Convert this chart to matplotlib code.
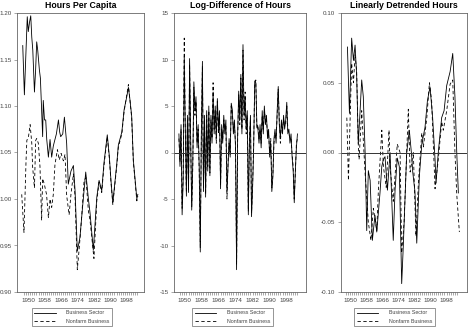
import numpy as np
import matplotlib
matplotlib.use('Agg')
import matplotlib.pyplot as plt
from matplotlib.lines import Line2D

plt.rcParams['font.family'] = ['Liberation Sans', 'DejaVu Sans']

# ---- Hours per capita (index) ----
bus_pc_years = [1947.3, 1948.1, 1949.5, 1950.0, 1950.6, 1951.2, 1951.7, 1952.2, 1953.0, 1953.6,
                1954.1, 1954.6, 1955.4, 1955.9, 1956.5, 1957.0, 1957.3, 1957.9, 1958.5, 1959.0,
                1959.8, 1960.6, 1961.4, 1962.2, 1963.0, 1963.7, 1964.7, 1965.3, 1965.8, 1966.8,
                1967.6, 1968.7, 1969.5, 1970.8, 1972.0, 1972.8, 1973.9, 1975.2, 1976.4, 1978.0,
                1979.3, 1980.1, 1981.7, 1983.4, 1984.5, 1985.8, 1986.9, 1988.5, 1989.5, 1990.3,
                1991.2, 1993.1, 1993.9, 1995.6, 1996.7, 1998.0, 1998.8, 1999.6, 2000.4, 2001.2,
                2002.1, 2002.9, 2003.4]
bus_pc = [1.165, 1.112, 1.196, 1.180, 1.190, 1.197, 1.174, 1.160, 1.115, 1.140,
          1.169, 1.160, 1.139, 1.130, 1.096, 1.067, 1.106, 1.085, 1.085, 1.064,
          1.045, 1.064, 1.045, 1.057, 1.064, 1.070, 1.085, 1.072, 1.067, 1.070,
          1.088, 1.060, 1.016, 1.030, 1.036, 1.009, 0.944, 0.959, 0.990, 1.029,
          1.000, 0.985, 0.945, 1.002, 1.020, 1.009, 1.039, 1.069, 1.046, 1.020,
          0.996, 1.037, 1.058, 1.072, 1.096, 1.110, 1.120, 1.106, 1.089, 1.042,
          1.020, 1.000, 1.005]

nfb_pc_years = [1946.8, 1947.9, 1948.9, 1949.3, 1950.1, 1950.9, 1951.7, 1952.1, 1953.0, 1953.6,
                1954.1, 1954.9, 1955.7, 1956.5, 1957.0, 1957.8, 1958.9, 1959.8, 1960.6, 1961.4,
                1962.2, 1963.0, 1964.2, 1965.1, 1966.0, 1967.1, 1967.9, 1968.7, 1969.9, 1970.8,
                1972.0, 1972.8, 1973.9, 1974.9, 1976.0, 1977.2, 1978.1, 1979.3, 1980.1, 1982.0,
                1983.4, 1984.5, 1985.8, 1986.9, 1988.5, 1989.5, 1990.3, 1991.2, 1993.1, 1993.9,
                1995.6, 1996.7, 1998.0, 1998.8, 1999.6, 2000.4, 2001.2, 2002.1, 2002.9, 2003.4]
nfb_pc = [1.005, 0.964, 1.041, 1.063, 1.067, 1.080, 1.060, 1.035, 1.012, 1.063,
          1.065, 1.060, 1.035, 0.977, 1.022, 1.016, 1.005, 0.980, 1.000, 0.991,
          1.005, 1.037, 1.053, 1.042, 1.049, 1.041, 1.048, 1.004, 0.983, 1.005,
          1.027, 1.002, 0.924, 0.949, 0.980, 1.020, 1.023, 0.987, 0.977, 0.936,
          0.998, 1.018, 1.007, 1.036, 1.067, 1.044, 1.018, 0.994, 1.035, 1.056,
          1.070, 1.094, 1.112, 1.123, 1.105, 1.087, 1.040, 1.018, 0.998, 1.003]

# ---- Log-difference of hours (semiannual readings, 1947.5 - 2003.0) ----
dlog_years = np.arange(1947.5, 2003.01, 0.5)
bus_dlog = [2.0, -1.5, 3.0, -6.7, -3.0, 10.3, 2.5, -4.7, 4.0, -4.3,
            10.1, 1.5, -6.2, -1.0, 7.6, 4.5, 6.0, 0.5, 3.0, -1.5,
            -10.7, 2.0, 9.8, -4.2, 4.0, -4.8, 4.5, -2.0, 5.0, -2.5,
            4.0, 1.0, 6.5, 2.0, 5.0, 1.5, 5.8, 2.5, 4.5, -3.9,
            3.0, 1.0, 4.0, 2.0, 3.5, -4.2, -1.5, 1.5, -0.5, 5.3,
            4.6, 2.0, 3.5, 0.5, -12.6, 2.0, 6.6, 3.5, 8.4, 2.0,
            11.6, 4.0, 6.0, 2.5, 4.5, -6.7, 1.0, 4.0, -6.9, -3.8,
            0.5, 7.7, 7.5, 3.0, 2.5, 1.0, 3.0, 0.5, 4.5, 2.0,
            5.0, 3.0, 4.0, 1.5, 2.5, -0.5, 1.0, -4.2, -2.6, 1.5,
            2.5, 1.0, 4.5, 7.1, 3.0, 1.5, 3.5, 2.0, 4.0, 2.5,
            3.5, 5.4, 2.0, 2.5, 1.0, 2.0, -0.5, -2.0, -5.4, -2.0,
            0.5, 2.0]
nfb_dlog = [1.5, -1.0, 2.5, -6.0, -2.5, 12.3, 2.0, -4.3, 3.5, -4.0,
            9.5, 1.0, -5.8, -1.5, 7.0, 4.0, 5.5, 1.0, 2.5, -2.0,
            -10.2, 1.5, 9.3, -3.8, 3.5, -4.5, 4.0, -1.5, 4.5, -2.2,
            3.5, 1.5, 7.5, 2.5, 4.5, 1.0, 5.5, 2.0, 4.0, -3.5,
            2.5, 1.5, 3.5, 2.5, 3.0, -5.0, -1.0, 1.0, -0.2, 5.0,
            4.2, 2.5, 3.0, 1.0, -12.0, 1.5, 6.2, 3.0, 8.0, 2.5,
            11.0, 3.5, 6.5, 2.0, 4.0, -6.3, 1.5, 3.5, -6.5, -3.5,
            1.0, 7.3, 7.8, 2.5, 3.0, 1.5, 2.5, 1.0, 4.0, 2.5,
            4.5, 3.5, 3.5, 2.0, 2.0, -0.2, 1.5, -3.8, -2.3, 1.0,
            2.0, 1.5, 4.0, 6.8, 3.5, 1.0, 3.0, 2.5, 3.5, 3.0,
            3.0, 5.0, 2.5, 2.0, 1.5, 1.5, -0.2, -1.5, -5.0, -2.3,
            1.0, 1.5]

# ---- Linearly detrended hours ----
bus_dt_years = [1948.7, 1949.7, 1950.8, 1951.7, 1952.5, 1953.3, 1954.1, 1955.0, 1955.8, 1956.6,
                1957.5, 1958.3, 1959.1, 1960.0, 1961.1, 1962.4, 1963.3, 1964.9, 1965.8, 1966.6,
                1967.4, 1968.0, 1968.6, 1969.9, 1971.5, 1972.4, 1973.5, 1974.5, 1975.7, 1976.5,
                1978.2, 1979.5, 1980.7, 1981.2, 1982.3, 1983.2, 1984.5, 1985.7, 1987.3, 1988.5,
                1989.8, 1991.1, 1992.3, 1992.8, 1993.9, 1995.6, 1996.8, 1998.1, 1999.8, 2001.1,
                2002.2, 2003.1, 2003.9]
bus_dt = [0.0756, 0.028, 0.082, 0.066, 0.077, 0.055, 0.006, 0.030, 0.052, 0.040,
          0.000, -0.056, -0.013, -0.020, -0.063, -0.045, -0.057, -0.029, -0.010, -0.005,
          -0.003, -0.015, -0.027, 0.000, -0.063, -0.027, -0.004, -0.010, -0.094, -0.067,
          0.000, 0.016, -0.003, -0.014, -0.028, -0.065, -0.017, 0.006, 0.018, 0.037,
          0.047, 0.025, -0.005, -0.022, 0.000, 0.025, 0.030, 0.048, 0.058, 0.071,
          0.040, 0.000, -0.029]

nfb_dt_years = [1948.4, 1949.2, 1950.8, 1951.7, 1952.5, 1953.3, 1954.1, 1954.5, 1955.8, 1957.5,
                1959.1, 1960.4, 1961.6, 1963.3, 1964.1, 1965.8, 1966.6, 1968.0, 1969.4, 1969.9,
                1971.5, 1973.5, 1974.9, 1975.7, 1976.9, 1979.0, 1979.9, 1981.5, 1982.8, 1984.0,
                1985.7, 1986.5, 1988.2, 1989.5, 1990.6, 1992.3, 1993.9, 1995.6, 1996.4, 1998.1,
                1999.8, 2001.1, 2002.2, 2003.1, 2004.4]
nfb_dt = [0.025, -0.020, 0.064, 0.050, 0.070, 0.058, 0.006, -0.005, 0.030, -0.015,
          -0.050, -0.063, -0.040, -0.056, -0.027, 0.016, -0.010, -0.025, 0.016, -0.010,
          -0.035, 0.006, 0.000, -0.072, -0.050, 0.031, -0.014, 0.000, -0.060, -0.022,
          0.014, 0.004, 0.025, 0.050, 0.037, -0.026, -0.005, 0.022, 0.016, 0.030,
          0.049, 0.052, 0.000, -0.030, -0.057]

titles = ['Hours Per Capita', 'Log-Difference of Hours', 'Linearly Detrended Hours']
legend_labels = ['Business Sector', 'Nonfarm Business']
year_ticks = [1950, 1958, 1966, 1974, 1982, 1990, 1998]

fig = plt.figure(figsize=(4.7, 3.29), dpi=100)
H = 329.0
W = 470.0
boxes = [(17, 127), (174, 132), (341, 126)]
xlims = [(1944.5, 2006.4), (1945.2, 2007.0), (1945.5, 2008.2)]
ylims = [(0.90, 1.20), (-15, 15), (-0.10, 0.10)]
yticks = [[0.90, 0.95, 1.00, 1.05, 1.10, 1.15, 1.20],
          [-15, -10, -5, 0, 5, 10, 15],
          [-0.10, -0.05, 0.00, 0.05, 0.10]]
yfmts = ['{:.2f}', '{:.0f}', '{:.2f}']
legend_cx = [72, 232.5, 394.5]

data = [((bus_pc_years, bus_pc), (nfb_pc_years, nfb_pc)),
        ((dlog_years, bus_dlog), (dlog_years, nfb_dlog)),
        ((bus_dt_years, bus_dt), (nfb_dt_years, nfb_dt))]

grey = '#666666'
for k in range(3):
    left, width = boxes[k]
    ax = fig.add_axes([left / W, (H - 292) / H, width / W, (292 - 13) / H])
    (xs, ys), (xd, yd) = data[k]
    ax.plot(xd, yd, color='black', lw=0.6, ls=(0, (4, 3)))
    ax.plot(xs, ys, color='black', lw=0.6)
    if k > 0:
        ax.axhline(0, color='#333333', lw=0.7)
    ax.set_xlim(*xlims[k])
    ax.set_ylim(*ylims[k])
    ax.set_xticks(year_ticks)
    ax.set_xticklabels([str(y) for y in year_ticks])
    ax.set_xticks(range(1948, 2004), minor=True)
    ax.set_yticks(yticks[k])
    ax.set_yticklabels([yfmts[k].format(v) for v in yticks[k]])
    ax.tick_params(axis='both', which='both', direction='out', colors=grey,
                   labelsize=4.5, labelcolor='#444444', width=0.4, length=2.5, pad=1.5)
    for sp in ax.spines.values():
        sp.set_color(grey)
        sp.set_linewidth(0.6)
    ax.set_title(titles[k], fontsize=6.3, fontweight='bold', pad=3.5)

    handles = [Line2D([], [], color='black', lw=0.6),
               Line2D([], [], color='black', lw=0.6, ls=(0, (4, 3)))]
    leg = fig.legend(handles, legend_labels, loc='center',
                     bbox_to_anchor=(legend_cx[k] / W, (H - 317) / H),
                     fontsize=3.8, frameon=True, fancybox=False, edgecolor=grey,
                     handlelength=4, handletextpad=2, borderpad=0.5, labelspacing=0.6)
    leg.get_frame().set_linewidth(0.6)
    for t in leg.get_texts():
        t.set_color('#444444')

fig.savefig('out.png', dpi=100)
